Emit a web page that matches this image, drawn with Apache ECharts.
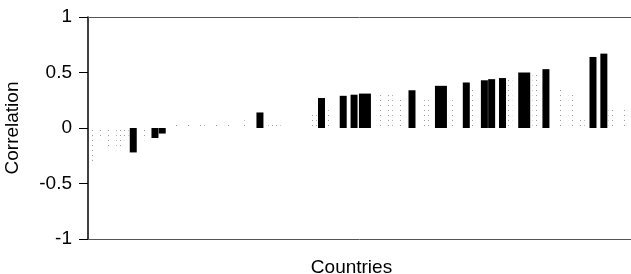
<!DOCTYPE html>
<html>
<head>
<meta charset="utf-8">
<script src="https://cdn.jsdelivr.net/npm/echarts@6/dist/echarts.min.js"></script>
<style>
  html, body { margin: 0; padding: 0; background: #fff; }
  #chart { width: 631px; height: 274px; }
</style>
</head>
<body>
<div id="chart"></div>
<script>
// countries along the x axis (no labels shown), one slot per country
const slotCount = 150
const yTicks = [-1, -0.5, 0, 0.5, 1]

// solid black bars
const barSlots = [12, 18, 20, 47, 64, 70, 73, 89, 104, 109, 111, 114, 126, 139, 142]
const barValues = [-0.22, -0.09, -0.05, 0.14, 0.27, 0.29, 0.30, 0.34, 0.41, 0.43, 0.44, 0.45, 0.53, 0.64, 0.67]
// the broader black bars
const wideSlots = [76, 97, 120]
const wideValues = [0.31, 0.38, 0.50]
// faint dotted bars (grey in the scan)
const faintSlots = [1, 3, 5, 8, 10, 15, 24, 27, 31, 35, 38, 43, 50, 52, 62, 66, 80, 83, 86, 93, 100, 106, 116, 123, 130, 133, 136, 144, 148]
const faintValues = [-0.30, -0.11, -0.20, -0.20, -0.11, -0.11, 0.04, 0.05, 0.06, 0.05, 0.05, 0.07, 0.06, 0.05, 0.13, 0.16, 0.31, 0.30, 0.28, 0.25, 0.25, 0.35, 0.45, 0.50, 0.35, 0.30, 0.10, 0.18, 0.19]

let slots = []
for (let i = 0; i < slotCount; i++) slots.push(String(i + 1))

function fill (idx, vals) {
  let arr = new Array(slotCount).fill('-')
  idx.forEach((s, i) => { arr[s] = vals[i] })
  return arr
}

const font = '"Liberation Sans", Arial, sans-serif'
let chart = echarts.init(document.getElementById('chart'))
chart.setOption({
  animation: false,
  grid: { left: 88, right: 0, top: 17, bottom: 35, containLabel: false, outerBoundsMode: 'none' },
  xAxis: [
    {
      type: 'category',
      data: slots,
      position: 'bottom',
      axisLine: { onZero: false, lineStyle: { color: '#555', width: 1 } },
      axisTick: { show: false },
      axisLabel: { show: false },
      name: 'Countries',
      nameLocation: 'middle',
      nameGap: 19,
      nameTextStyle: { fontFamily: font, fontSize: 19, color: '#000', padding: [0, 16, 0, 0] }
    },
    {
      type: 'category',
      data: slots,
      position: 'top',
      axisLine: { onZero: false, lineStyle: { color: '#555', width: 1 } },
      axisTick: { show: false },
      axisLabel: { show: false }
    },
    {
      type: 'category',
      data: slots,
      show: false
    }
  ],
  yAxis: {
    type: 'value',
    min: -1,
    max: 1,
    interval: 0.5,
    axisLine: { show: true, lineStyle: { color: '#000', width: 1.5 } },
    axisTick: { show: true, length: 9, lineStyle: { color: '#000' } },
    splitLine: { show: false },
    axisLabel: {
      fontFamily: font,
      fontSize: 19,
      color: '#000',
      margin: 16,
      formatter: (v) => yTicks.indexOf(v) >= 0 ? String(v) : ''
    },
    name: 'Correlation',
    nameLocation: 'middle',
    nameGap: 66,
    nameTextStyle: { fontFamily: font, fontSize: 19, color: '#000' }
  },
  series: [
    {
      name: 'faint',
      type: 'bar',
      xAxisIndex: 2,
      barWidth: 5,
      data: fill(faintSlots, faintValues),
      itemStyle: {
        color: 'rgba(0,0,0,0)',
        decal: {
          symbol: 'rect',
          symbolSize: 1,
          color: '#9a9a9a',
          dashArrayX: [1, 3],
          dashArrayY: [1, 4],
          rotation: 0
        }
      }
    },
    {
      name: 'bars',
      type: 'bar',
      xAxisIndex: 0,
      barWidth: 7,
      data: fill(barSlots, barValues),
      itemStyle: { color: '#000' }
    },
    {
      name: 'wide',
      type: 'bar',
      xAxisIndex: 1,
      barWidth: 12,
      data: fill(wideSlots, wideValues),
      itemStyle: { color: '#000' }
    }
  ]
})
</script>
</body>
</html>
